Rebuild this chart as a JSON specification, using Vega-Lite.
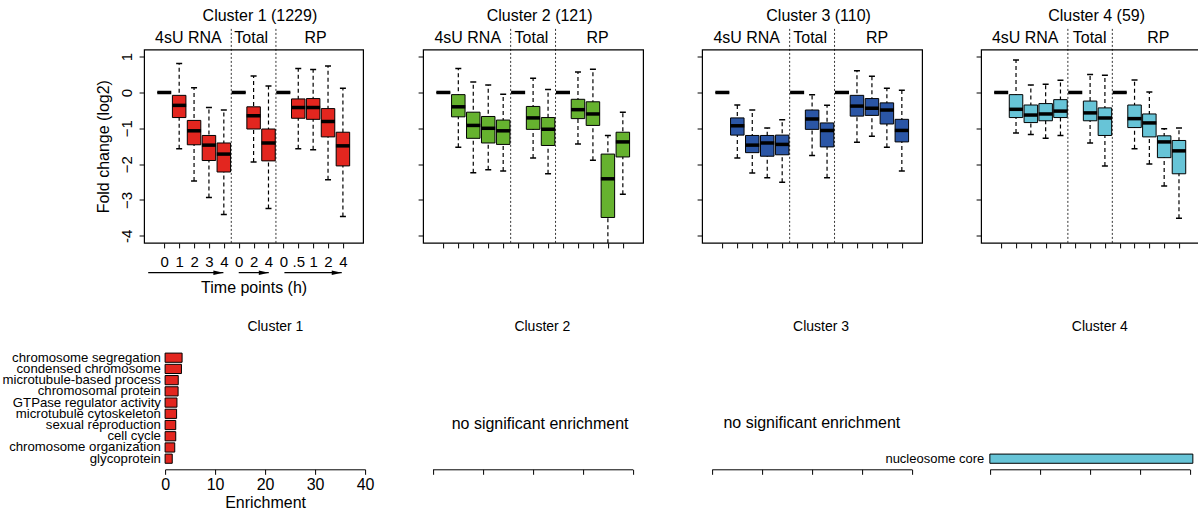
{
  "$schema": "https://vega.github.io/schema/vega-lite/v6.json",
  "padding": {"left": 1.1, "top": 6.5, "right": -1, "bottom": 0},
  "background": "white",
  "config": {
    "font": "Liberation Sans",
    "view": {"stroke": null},
    "axis": {"grid": false, "labelOverlap": false, "labelFlush": false, "domainColor": "black", "tickColor": "black", "labelColor": "black", "titleColor": "black", "labelFont": "Liberation Sans", "titleFont": "Liberation Sans", "titleFontWeight": "normal", "tickWidth": 1, "domainWidth": 1},
    "title": {"font": "Liberation Sans", "fontWeight": "normal", "color": "black", "anchor": "middle"},
    "text": {"font": "Liberation Sans"}
  },
  "datasets": {
    "boxes": [
      {"cluster":1,"pos":1,"lower":0,"q1":0,"median":0,"q3":0,"upper":0},
      {"cluster":1,"pos":2,"lower":-1.57,"q1":-0.70,"median":-0.36,"q3":-0.08,"upper":0.81},
      {"cluster":1,"pos":3,"lower":-2.47,"q1":-1.46,"median":-1.07,"q3":-0.78,"upper":0.13},
      {"cluster":1,"pos":4,"lower":-2.93,"q1":-1.90,"median":-1.47,"q3":-1.20,"upper":-0.42},
      {"cluster":1,"pos":5,"lower":-3.41,"q1":-2.22,"median":-1.72,"q3":-1.41,"upper":-0.49},
      {"cluster":1,"pos":6,"lower":0,"q1":0,"median":0,"q3":0,"upper":0},
      {"cluster":1,"pos":7,"lower":-1.94,"q1":-1.02,"median":-0.65,"q3":-0.40,"upper":0.46},
      {"cluster":1,"pos":8,"lower":-3.24,"q1":-1.91,"median":-1.41,"q3":-1.02,"upper":0.18},
      {"cluster":1,"pos":9,"lower":0,"q1":0,"median":0,"q3":0,"upper":0},
      {"cluster":1,"pos":10,"lower":-1.57,"q1":-0.72,"median":-0.42,"q3":-0.18,"upper":0.67},
      {"cluster":1,"pos":11,"lower":-1.60,"q1":-0.75,"median":-0.42,"q3":-0.17,"upper":0.64},
      {"cluster":1,"pos":12,"lower":-2.44,"q1":-1.24,"median":-0.81,"q3":-0.45,"upper":0.74},
      {"cluster":1,"pos":13,"lower":-3.46,"q1":-2.05,"median":-1.49,"q3":-1.11,"upper":0.12},
      {"cluster":2,"pos":1,"lower":0,"q1":0,"median":0,"q3":0,"upper":0},
      {"cluster":2,"pos":2,"lower":-1.53,"q1":-0.68,"median":-0.40,"q3":-0.06,"upper":0.67},
      {"cluster":2,"pos":3,"lower":-2.24,"q1":-1.28,"median":-0.92,"q3":-0.55,"upper":0.29},
      {"cluster":2,"pos":4,"lower":-2.16,"q1":-1.41,"median":-1.00,"q3":-0.67,"upper":0.21},
      {"cluster":2,"pos":5,"lower":-2.19,"q1":-1.45,"median":-1.07,"q3":-0.77,"upper":-0.05},
      {"cluster":2,"pos":6,"lower":0,"q1":0,"median":0,"q3":0,"upper":0},
      {"cluster":2,"pos":7,"lower":-1.83,"q1":-1.03,"median":-0.71,"q3":-0.39,"upper":0.40},
      {"cluster":2,"pos":8,"lower":-2.27,"q1":-1.48,"median":-1.03,"q3":-0.70,"upper":0.08},
      {"cluster":2,"pos":9,"lower":0,"q1":0,"median":0,"q3":0,"upper":0},
      {"cluster":2,"pos":10,"lower":-1.44,"q1":-0.73,"median":-0.48,"q3":-0.19,"upper":0.57},
      {"cluster":2,"pos":11,"lower":-1.89,"q1":-0.92,"median":-0.60,"q3":-0.26,"upper":0.65},
      {"cluster":2,"pos":12,"lower":-4.6,"q1":-3.49,"median":-2.41,"q3":-1.72,"upper":-1.20},
      {"cluster":2,"pos":13,"lower":-2.84,"q1":-1.80,"median":-1.38,"q3":-1.11,"upper":-0.55},
      {"cluster":3,"pos":1,"lower":0,"q1":0,"median":0,"q3":0,"upper":0},
      {"cluster":3,"pos":2,"lower":-1.83,"q1":-1.19,"median":-0.93,"q3":-0.71,"upper":-0.35},
      {"cluster":3,"pos":3,"lower":-2.25,"q1":-1.68,"median":-1.47,"q3":-1.20,"upper":-0.49},
      {"cluster":3,"pos":4,"lower":-2.38,"q1":-1.78,"median":-1.41,"q3":-1.20,"upper":-0.99},
      {"cluster":3,"pos":5,"lower":-2.51,"q1":-1.74,"median":-1.45,"q3":-1.19,"upper":-0.76},
      {"cluster":3,"pos":6,"lower":0,"q1":0,"median":0,"q3":0,"upper":0},
      {"cluster":3,"pos":7,"lower":-1.76,"q1":-1.03,"median":-0.74,"q3":-0.49,"upper":-0.06},
      {"cluster":3,"pos":8,"lower":-2.38,"q1":-1.52,"median":-1.06,"q3":-0.85,"upper":-0.36},
      {"cluster":3,"pos":9,"lower":0,"q1":0,"median":0,"q3":0,"upper":0},
      {"cluster":3,"pos":10,"lower":-1.39,"q1":-0.66,"median":-0.38,"q3":-0.08,"upper":0.61},
      {"cluster":3,"pos":11,"lower":-1.22,"q1":-0.64,"median":-0.44,"q3":-0.17,"upper":0.45},
      {"cluster":3,"pos":12,"lower":-1.53,"q1":-0.88,"median":-0.49,"q3":-0.29,"upper":0.12},
      {"cluster":3,"pos":13,"lower":-2.19,"q1":-1.38,"median":-1.06,"q3":-0.75,"upper":0.06},
      {"cluster":4,"pos":1,"lower":0,"q1":0,"median":0,"q3":0,"upper":0},
      {"cluster":4,"pos":2,"lower":-1.13,"q1":-0.70,"median":-0.47,"q3":-0.06,"upper":0.91},
      {"cluster":4,"pos":3,"lower":-1.17,"q1":-0.84,"median":-0.63,"q3":-0.35,"upper":0.21},
      {"cluster":4,"pos":4,"lower":-1.28,"q1":-0.79,"median":-0.60,"q3":-0.31,"upper":0.23},
      {"cluster":4,"pos":5,"lower":-1.20,"q1":-0.70,"median":-0.52,"q3":-0.20,"upper":0.34},
      {"cluster":4,"pos":6,"lower":0,"q1":0,"median":0,"q3":0,"upper":0},
      {"cluster":4,"pos":7,"lower":-1.41,"q1":-0.79,"median":-0.57,"q3":-0.24,"upper":0.50},
      {"cluster":4,"pos":8,"lower":-2.05,"q1":-1.20,"median":-0.71,"q3":-0.43,"upper":0.48},
      {"cluster":4,"pos":9,"lower":0,"q1":0,"median":0,"q3":0,"upper":0},
      {"cluster":4,"pos":10,"lower":-1.57,"q1":-0.98,"median":-0.73,"q3":-0.35,"upper":0.35},
      {"cluster":4,"pos":11,"lower":-2.00,"q1":-1.24,"median":-0.85,"q3":-0.60,"upper":0.01},
      {"cluster":4,"pos":12,"lower":-2.61,"q1":-1.82,"median":-1.38,"q3":-1.21,"upper":-1.01},
      {"cluster":4,"pos":13,"lower":-3.51,"q1":-2.27,"median":-1.63,"q3":-1.34,"upper":-0.99}
    ],
    "go": [
      {"cluster":1,"term":"chromosome segregation","enrichment":3.4},
      {"cluster":1,"term":"condensed chromosome","enrichment":3.27},
      {"cluster":1,"term":"microtubule-based process","enrichment":2.63},
      {"cluster":1,"term":"chromosomal protein","enrichment":2.6},
      {"cluster":1,"term":"GTPase regulator activity","enrichment":2.37},
      {"cluster":1,"term":"microtubule cytoskeleton","enrichment":2.3},
      {"cluster":1,"term":"sexual reproduction","enrichment":2.13},
      {"cluster":1,"term":"cell cycle","enrichment":2.13},
      {"cluster":1,"term":"chromosome organization","enrichment":1.93},
      {"cluster":1,"term":"glycoprotein","enrichment":1.43},
      {"cluster":4,"term":"nucleosome core","enrichment":40.6}
    ],
    "groups": [
      {"cluster":1,"group": "4sU RNA", "at": 2.62},
      {"cluster":1,"group": "Total", "at": 6.84},
      {"cluster":1,"group": "RP", "at": 11.16},
      {"cluster":2,"group": "4sU RNA", "at": 2.63},
      {"cluster":2,"group": "Total", "at": 6.89},
      {"cluster":2,"group": "RP", "at": 11.31},
      {"cluster":3,"group": "4sU RNA", "at": 2.63},
      {"cluster":3,"group": "Total", "at": 6.87},
      {"cluster":3,"group": "RP", "at": 11.34},
      {"cluster":4,"group": "4sU RNA", "at": 2.62},
      {"cluster":4,"group": "Total", "at": 6.97},
      {"cluster":4,"group": "RP", "at": 11.6}
    ],
    "seps": [{"sep": 5.5}, {"sep": 8.5}],
    "arrows": [
      {"from": -0.08, "to": 4.97},
      {"from": 6.0, "to": 8.02},
      {"from": 9.07, "to": 12.92}
    ]
  },
  "columns": 4,
  "bounds": "flush",
  "spacing": {"row": 97.3, "column": 59},
  "concat": [
    {
      "width": 219, "height": 193.4,
      "view": {"stroke": "black", "strokeWidth": 1.2},
      "title": {"text": "Cluster 1 (1229)", "fontSize": 16, "dx": 6.3, "offset": -8.7, "baseline": "alphabetic"},
      "layer": [
        {
          "data": {"name": "boxes"},
          "transform": [{"filter": "datum.cluster == 1"}],
          "layer": [
            {"mark": {"type": "rule", "strokeDash": [4, 3], "strokeWidth": 1.2, "color": "black", "clip": true},
             "encoding": {
               "x": {"field": "pos", "type": "quantitative", "scale": {"domain": [-0.02, 14.02], "nice": false, "zero": false},
                     "axis": {"values": [1,2,3,4,5,6,7,8,9,10,11,12,13], "tickCount": 13, "labelExpr": "['0','1','2','3','4','0','2','4','0','.5','1','2','4'][datum.value - 1]", "labelFontSize": 15, "labelPadding": 7, "tickSize": 5, "domain": false, "labelFlush": false, "labelOverlap": false, "title": "Time points (h)", "titleFontSize": 16, "titlePadding": 10}},
               "y": {"field": "lower", "type": "quantitative", "scale": {"domain": [-4.2, 1.2], "nice": false, "zero": false},
                     "axis": {"values": [-4,-3,-2,-1,0,1], "tickCount": 6, "labelExpr": "datum.value == -4 ? '-4' : datum.label", "labelAngle": -90, "labelAlign": "center", "labelBaseline": "bottom", "labelFontSize": 15, "labelPadding": 5, "labelOverlap": false, "tickSize": 5, "domain": false, "title": "Fold change (log2)", "titleFontSize": 16, "titlePadding": 8}},
               "y2": {"field": "upper"}}},
            {"mark": {"type": "tick", "orient": "horizontal", "size": 6, "thickness": 1.5, "color": "black", "opacity": 1, "clip": true},
             "encoding": {"x": {"field": "pos", "type": "quantitative"}, "y": {"field": "lower", "type": "quantitative"}}},
            {"mark": {"type": "tick", "orient": "horizontal", "size": 6, "thickness": 1.5, "color": "black", "opacity": 1, "clip": true},
             "encoding": {"x": {"field": "pos", "type": "quantitative"}, "y": {"field": "upper", "type": "quantitative"}}},
            {"mark": {"type": "bar", "width": 13.5, "fill": "#e3261f", "stroke": "black", "strokeWidth": 1},
             "encoding": {"x": {"field": "pos", "type": "quantitative"}, "y": {"field": "q1", "type": "quantitative"}, "y2": {"field": "q3"}}},
            {"mark": {"type": "tick", "orient": "horizontal", "size": 14, "thickness": 3.5, "color": "black", "opacity": 1},
             "encoding": {"x": {"field": "pos", "type": "quantitative"}, "y": {"field": "median", "type": "quantitative"}}}
          ]
        },
        {"data": {"name": "seps"},
         "mark": {"type": "rule", "strokeDash": [2, 2], "strokeWidth": 0.8, "color": "black", "clip": false},
         "encoding": {"x": {"field": "sep", "type": "quantitative"}, "y": {"datum": -4.2}, "y2": {"datum": 1.79}}},
        {"data": {"name": "groups"},
         "transform": [{"filter": "datum.cluster == 1"}],
         "mark": {"type": "text", "fontSize": 16, "baseline": "alphabetic", "color": "black", "clip": false},
         "encoding": {"x": {"field": "at", "type": "quantitative"}, "y": {"datum": 1.39}, "text": {"field": "group"}}},
        {"data": {"name": "arrows"},
         "layer": [
           {"mark": {"type": "rule", "color": "black", "strokeWidth": 1.2, "clip": false},
            "encoding": {"x": {"field": "from", "type": "quantitative"}, "x2": {"field": "to"}, "y": {"datum": -5.03}}},
           {"mark": {"type": "point", "shape": "M-1,-0.45L1,0L-1,0.45Z", "filled": true, "size": 100, "color": "black", "opacity": 1, "xOffset": -5, "clip": false},
            "encoding": {"x": {"field": "to", "type": "quantitative"}, "y": {"datum": -5.03}}}
         ]}
      ]
    },
    {
      "width": 220, "height": 193.4,
      "view": {"stroke": "black", "strokeWidth": 1.2},
      "title": {"text": "Cluster 2 (121)", "fontSize": 16, "dx": 6.5, "offset": -8.7, "baseline": "alphabetic"},
      "layer": [
        {
          "data": {"name": "boxes"},
          "transform": [{"filter": "datum.cluster == 2"}],
          "layer": [
            {"mark": {"type": "rule", "strokeDash": [4, 3], "strokeWidth": 1.2, "color": "black", "clip": true},
             "encoding": {
               "x": {"field": "pos", "type": "quantitative", "scale": {"domain": [-0.02, 14.02], "nice": false, "zero": false},
                     "axis": {"values": [1,2,3,4,5,6,7,8,9,10,11,12,13], "tickCount": 13, "labels": false, "tickSize": 5, "domain": false, "title": null}},
               "y": {"field": "lower", "type": "quantitative", "scale": {"domain": [-4.2, 1.2], "nice": false, "zero": false},
                     "axis": {"values": [-4,-3,-2,-1,0,1], "tickCount": 6, "labels": false, "tickSize": 5, "domain": false, "title": null}},
               "y2": {"field": "upper"}}},
            {"mark": {"type": "tick", "orient": "horizontal", "size": 6, "thickness": 1.5, "color": "black", "opacity": 1, "clip": true},
             "encoding": {"x": {"field": "pos", "type": "quantitative"}, "y": {"field": "lower", "type": "quantitative"}}},
            {"mark": {"type": "tick", "orient": "horizontal", "size": 6, "thickness": 1.5, "color": "black", "opacity": 1, "clip": true},
             "encoding": {"x": {"field": "pos", "type": "quantitative"}, "y": {"field": "upper", "type": "quantitative"}}},
            {"mark": {"type": "bar", "width": 13.5, "fill": "#66b22f", "stroke": "black", "strokeWidth": 1},
             "encoding": {"x": {"field": "pos", "type": "quantitative"}, "y": {"field": "q1", "type": "quantitative"}, "y2": {"field": "q3"}}},
            {"mark": {"type": "tick", "orient": "horizontal", "size": 14, "thickness": 3.5, "color": "black", "opacity": 1},
             "encoding": {"x": {"field": "pos", "type": "quantitative"}, "y": {"field": "median", "type": "quantitative"}}}
          ]
        },
        {"data": {"name": "seps"},
         "mark": {"type": "rule", "strokeDash": [2, 2], "strokeWidth": 0.8, "color": "black", "clip": false},
         "encoding": {"x": {"field": "sep", "type": "quantitative"}, "y": {"datum": -4.2}, "y2": {"datum": 1.79}}},
        {"data": {"name": "groups"},
         "transform": [{"filter": "datum.cluster == 2"}],
         "mark": {"type": "text", "fontSize": 16, "baseline": "alphabetic", "color": "black", "clip": false},
         "encoding": {"x": {"field": "at", "type": "quantitative"}, "y": {"datum": 1.39}, "text": {"field": "group"}}}
      ]
    },
    {
      "width": 220, "height": 193.4,
      "view": {"stroke": "black", "strokeWidth": 1.2},
      "title": {"text": "Cluster 3 (110)", "fontSize": 16, "dx": 6.5, "offset": -8.7, "baseline": "alphabetic"},
      "layer": [
        {
          "data": {"name": "boxes"},
          "transform": [{"filter": "datum.cluster == 3"}],
          "layer": [
            {"mark": {"type": "rule", "strokeDash": [4, 3], "strokeWidth": 1.2, "color": "black", "clip": true},
             "encoding": {
               "x": {"field": "pos", "type": "quantitative", "scale": {"domain": [-0.02, 14.02], "nice": false, "zero": false},
                     "axis": {"values": [1,2,3,4,5,6,7,8,9,10,11,12,13], "tickCount": 13, "labels": false, "tickSize": 5, "domain": false, "title": null}},
               "y": {"field": "lower", "type": "quantitative", "scale": {"domain": [-4.2, 1.2], "nice": false, "zero": false},
                     "axis": {"values": [-4,-3,-2,-1,0,1], "tickCount": 6, "labels": false, "tickSize": 5, "domain": false, "title": null}},
               "y2": {"field": "upper"}}},
            {"mark": {"type": "tick", "orient": "horizontal", "size": 6, "thickness": 1.5, "color": "black", "opacity": 1, "clip": true},
             "encoding": {"x": {"field": "pos", "type": "quantitative"}, "y": {"field": "lower", "type": "quantitative"}}},
            {"mark": {"type": "tick", "orient": "horizontal", "size": 6, "thickness": 1.5, "color": "black", "opacity": 1, "clip": true},
             "encoding": {"x": {"field": "pos", "type": "quantitative"}, "y": {"field": "upper", "type": "quantitative"}}},
            {"mark": {"type": "bar", "width": 13.5, "fill": "#2b56a6", "stroke": "black", "strokeWidth": 1},
             "encoding": {"x": {"field": "pos", "type": "quantitative"}, "y": {"field": "q1", "type": "quantitative"}, "y2": {"field": "q3"}}},
            {"mark": {"type": "tick", "orient": "horizontal", "size": 14, "thickness": 3.5, "color": "black", "opacity": 1},
             "encoding": {"x": {"field": "pos", "type": "quantitative"}, "y": {"field": "median", "type": "quantitative"}}}
          ]
        },
        {"data": {"name": "seps"},
         "mark": {"type": "rule", "strokeDash": [2, 2], "strokeWidth": 0.8, "color": "black", "clip": false},
         "encoding": {"x": {"field": "sep", "type": "quantitative"}, "y": {"datum": -4.2}, "y2": {"datum": 1.79}}},
        {"data": {"name": "groups"},
         "transform": [{"filter": "datum.cluster == 3"}],
         "mark": {"type": "text", "fontSize": 16, "baseline": "alphabetic", "color": "black", "clip": false},
         "encoding": {"x": {"field": "at", "type": "quantitative"}, "y": {"datum": 1.39}, "text": {"field": "group"}}}
      ]
    },
    {
      "width": 218, "height": 193.4,
      "view": {"stroke": "black", "strokeWidth": 1.2},
      "title": {"text": "Cluster 4 (59)", "fontSize": 16, "dx": 6.5, "offset": -8.7, "baseline": "alphabetic"},
      "layer": [
        {
          "data": {"name": "boxes"},
          "transform": [{"filter": "datum.cluster == 4"}],
          "layer": [
            {"mark": {"type": "rule", "strokeDash": [4, 3], "strokeWidth": 1.2, "color": "black", "clip": true},
             "encoding": {
               "x": {"field": "pos", "type": "quantitative", "scale": {"domain": [-0.02, 14.02], "nice": false, "zero": false},
                     "axis": {"values": [1,2,3,4,5,6,7,8,9,10,11,12,13], "tickCount": 13, "labels": false, "tickSize": 5, "domain": false, "title": null}},
               "y": {"field": "lower", "type": "quantitative", "scale": {"domain": [-4.2, 1.2], "nice": false, "zero": false},
                     "axis": {"values": [-4,-3,-2,-1,0,1], "tickCount": 6, "labels": false, "tickSize": 5, "domain": false, "title": null}},
               "y2": {"field": "upper"}}},
            {"mark": {"type": "tick", "orient": "horizontal", "size": 6, "thickness": 1.5, "color": "black", "opacity": 1, "clip": true},
             "encoding": {"x": {"field": "pos", "type": "quantitative"}, "y": {"field": "lower", "type": "quantitative"}}},
            {"mark": {"type": "tick", "orient": "horizontal", "size": 6, "thickness": 1.5, "color": "black", "opacity": 1, "clip": true},
             "encoding": {"x": {"field": "pos", "type": "quantitative"}, "y": {"field": "upper", "type": "quantitative"}}},
            {"mark": {"type": "bar", "width": 13.5, "fill": "#67c4d7", "stroke": "black", "strokeWidth": 1},
             "encoding": {"x": {"field": "pos", "type": "quantitative"}, "y": {"field": "q1", "type": "quantitative"}, "y2": {"field": "q3"}}},
            {"mark": {"type": "tick", "orient": "horizontal", "size": 14, "thickness": 3.5, "color": "black", "opacity": 1},
             "encoding": {"x": {"field": "pos", "type": "quantitative"}, "y": {"field": "median", "type": "quantitative"}}}
          ]
        },
        {"data": {"name": "seps"},
         "mark": {"type": "rule", "strokeDash": [2, 2], "strokeWidth": 0.8, "color": "black", "clip": false},
         "encoding": {"x": {"field": "sep", "type": "quantitative"}, "y": {"datum": -4.2}, "y2": {"datum": 1.79}}},
        {"data": {"name": "groups"},
         "transform": [{"filter": "datum.cluster == 4"}],
         "mark": {"type": "text", "fontSize": 16, "baseline": "alphabetic", "color": "black", "clip": false},
         "encoding": {"x": {"field": "at", "type": "quantitative"}, "y": {"datum": 1.39}, "text": {"field": "group"}}}
      ]
    },
    {
      "width": 220, "height": 128.5,
      "title": {"text": "Cluster 1", "fontSize": 14, "dx": 21.3, "offset": -4.7, "baseline": "alphabetic"},
      "data": {"name": "go"},
      "transform": [{"filter": "datum.cluster == 1"}],
      "mark": {"type": "bar", "fill": "#e3261f", "stroke": "black", "strokeWidth": 1},
      "encoding": {
        "y": {"field": "term", "type": "nominal", "sort": null,
              "scale": {"domain": ["chromosome segregation","condensed chromosome","microtubule-based process","chromosomal protein","GTPase regulator activity","microtubule cytoskeleton","sexual reproduction","cell cycle","chromosome organization","glycoprotein"], "range": [11.29, 123.5], "paddingInner": 0.18, "paddingOuter": 0.09},
              "axis": {"ticks": false, "domain": false, "labelFontSize": 13.2, "labelPadding": 2, "offset": -18.3, "title": null, "labelLimit": 0}},
        "x": {"field": "enrichment", "type": "quantitative", "scale": {"domain": [0, 40], "range": [21, 221], "nice": false},
              "axis": {"values": [0, 10, 20, 30, 40], "tickCount": 5, "tickSize": 5, "labelFontSize": 16, "labelPadding": 2, "labelFlush": false, "title": "Enrichment", "titleFontSize": 16, "titlePadding": 2}}
      }
    },
    {
      "width": 220, "height": 128.5,
      "title": {"text": "Cluster 2", "fontSize": 14, "dx": 9.3, "offset": -4.7, "baseline": "alphabetic"},
      "data": {"values": [{"msg": "no significant enrichment"}]},
      "mark": {"type": "text", "fontSize": 16, "baseline": "middle", "color": "black"},
      "encoding": {
        "text": {"field": "msg"},
        "x": {"datum": 21.5, "type": "quantitative", "scale": {"domain": [0, 40], "range": [9.5, 209.5], "nice": false},
              "axis": {"values": [0, 10, 20, 30, 40], "tickCount": 5, "labels": false, "tickSize": 5, "title": null}},
        "y": {"datum": 0.352, "type": "quantitative", "scale": {"domain": [0, 1], "nice": false}, "axis": null}
      }
    },
    {
      "width": 220, "height": 128.5,
      "title": {"text": "Cluster 3", "fontSize": 14, "dx": 9, "offset": -4.7, "baseline": "alphabetic"},
      "data": {"values": [{"msg": "no significant enrichment"}]},
      "mark": {"type": "text", "fontSize": 16, "baseline": "middle", "color": "black"},
      "encoding": {
        "text": {"field": "msg"},
        "x": {"datum": 20, "type": "quantitative", "scale": {"domain": [0, 40], "range": [9.75, 209.75], "nice": false},
              "axis": {"values": [0, 10, 20, 30, 40], "tickCount": 5, "labels": false, "tickSize": 5, "title": null}},
        "y": {"datum": 0.362, "type": "quantitative", "scale": {"domain": [0, 1], "nice": false}, "axis": null}
      }
    },
    {
      "width": 218, "height": 128.5,
      "title": {"text": "Cluster 4", "fontSize": 14, "dx": 9.7, "offset": -4.7, "baseline": "alphabetic"},
      "data": {"name": "go"},
      "transform": [{"filter": "datum.cluster == 4"}],
      "mark": {"type": "bar", "fill": "#67c4d7", "stroke": "black", "strokeWidth": 1},
      "encoding": {
        "y": {"field": "term", "type": "nominal", "sort": null,
              "scale": {"domain": ["nucleosome core"], "range": [112.28, 123.5], "paddingInner": 0.18, "paddingOuter": 0.09},
              "axis": {"ticks": false, "domain": false, "labelFontSize": 13, "labelPadding": 2, "offset": -4.7, "title": null, "labelLimit": 0}},
        "x": {"field": "enrichment", "type": "quantitative", "scale": {"domain": [0, 40], "range": [8.75, 208.75], "nice": false},
              "axis": {"values": [0, 10, 20, 30, 40], "tickCount": 5, "labels": false, "tickSize": 5, "title": null}}
      }
    }
  ]
}
